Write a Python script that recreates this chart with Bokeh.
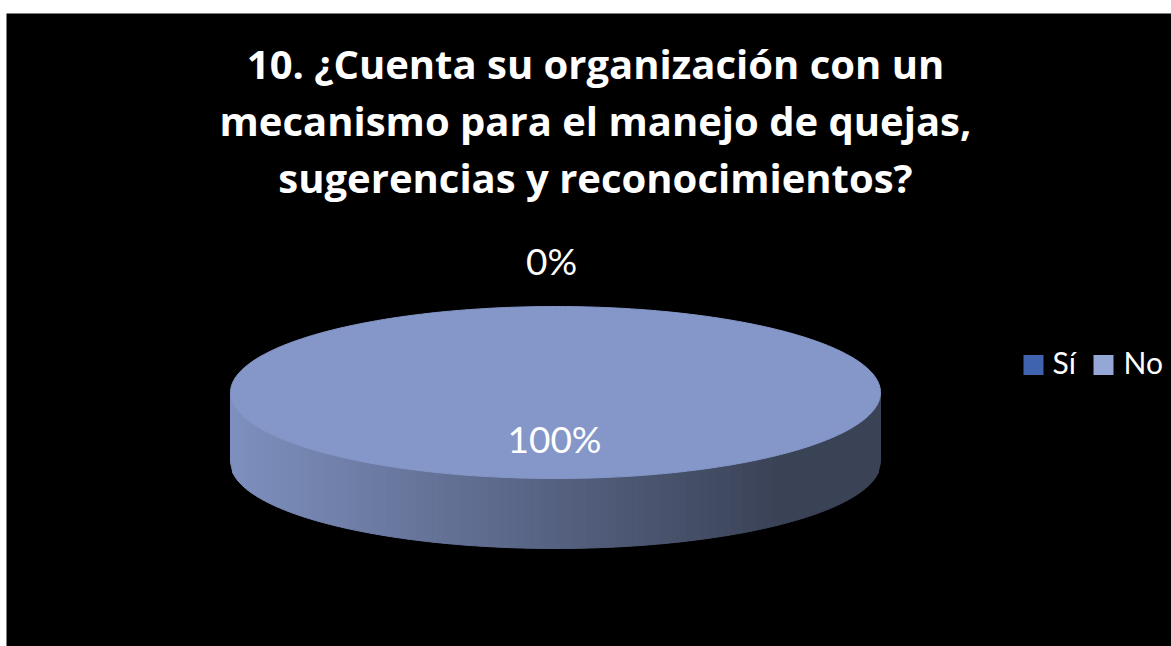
import numpy as np
from bokeh.plotting import figure
from bokeh.models import Range1d, Spacer
from bokeh.layouts import column, row
from bokeh.core.properties import value
from bokeh.embed import file_html
from bokeh.resources import INLINE

# ---- data ----
categories = ["Sí", "No"]
values = [0, 100]
slice_colors = ["#3F63AE", "#8497C8"]
legend_colors = ["#3F63AE", "#95A7D7"]
title_lines = ["10. ¿Cuenta su organización con un",
               "mecanismo para el manejo de quejas,",
               "sugerencias y reconocimientos?"]

# ---- layout constants (page pixel coordinates) ----
X0, Y0 = 6, 13
W, H = 1171 - X0, 646 - Y0
cx, cy, rx, ry, depth = 555, 392, 325, 86, 70
TITLE_FONT = "Open Sans"
FONT = "Lato"
DY = -14  # text baseline correction

p = figure(width=W, height=H, output_backend="svg", toolbar_location=None,
           x_range=Range1d(X0, X0 + W), y_range=Range1d(Y0 + H, Y0),
           min_border=0, background_fill_color="black", border_fill_color="black",
           outline_line_color=None)
p.axis.visible = False
p.grid.visible = False

total = float(sum(values))
fracs = [v / total for v in values]

def ell(theta):
    return cx + rx * np.sin(theta), cy - ry * np.cos(theta)

def hex2rgb(h):
    h = h.lstrip("#")
    return np.array([int(h[i:i + 2], 16) for i in (0, 2, 4)], dtype=float)

def rgb2hex(c):
    c = np.clip(np.round(c), 0, 255).astype(int)
    return "#%02x%02x%02x" % tuple(c)

# ---- side (front half) with left->right shading ----
main = int(np.argmax(values))
base = hex2rgb(slice_colors[main])
light = base * 0.95
dark = np.array([58, 66, 86], dtype=float)
N = 260
xs_edges = np.linspace(cx - rx, cx + rx, N + 1)
def ytop(x):
    t = np.clip((x - cx) / rx, -1, 1)
    return cy + ry * np.sqrt(1 - t * t)
sx, sy, sc = [], [], []
for i in range(N):
    a, b = xs_edges[i], xs_edges[i + 1]
    ya, yb = ytop(a), ytop(b)
    sx.append([a, b, b, a])
    sy.append([ya, yb, yb + depth, ya + depth])
    f = np.clip((0.5 * (a + b) - (cx - rx)) / (0.85 * 2 * rx), 0, 1)
    sc.append(rgb2hex(light * (1 - f) + dark * f))
p.patches(xs=sx, ys=sy, fill_color=sc, line_color=sc, line_width=1)

# ---- top faces ----
start = 0.0
label_x, label_y, label_t = [], [], []
for cat, fr, col in zip(categories, fracs, slice_colors):
    end = start + fr * 2 * np.pi
    mid = 0.5 * (start + end)
    if fr > 0:
        th = np.linspace(start, end, 400)
        px, py = ell(th)
        if fr < 1:
            px = np.concatenate([[cx], px]); py = np.concatenate([[cy], py])
        p.patch(list(px), list(py), fill_color=col, line_color=col, line_width=1)
    if fr >= 0.5:
        lx, ly = cx - 1 + 0.56 * rx * np.sin(mid), cy - 0.70 * ry * np.cos(mid)
    else:
        lx = cx - 4 + (rx + 40) * np.sin(mid)
        ly = cy - (ry + 32) * np.cos(mid)
    label_x.append(lx); label_y.append(ly + DY)
    label_t.append(f"{fr * 100:.0f}%")
    start = end

p.text(x=label_x, y=label_y, text=label_t, text_color="white",
       text_font=value(FONT), text_font_size="37px",
       text_align="center", text_baseline="alphabetic")

# ---- title ----
p.text(x=[595] * 3, y=[77 + DY, 134 + DY, 191 + DY], text=title_lines, text_color="white",
       text_font=value(TITLE_FONT), text_font_style="bold", text_font_size="40px",
       text_align="center", text_baseline="alphabetic")

# ---- legend ----
lg_sq_x = [1033, 1103]
lg_tx_x = [1052, 1123]
p.rect(x=lg_sq_x, y=[364.5, 364.5], width=20, height=20,
       fill_color=legend_colors, line_color=None)
p.text(x=lg_tx_x, y=[375 + DY, 375 + DY], text=categories, text_color="white",
       text_font=value(FONT), text_font_size="30px",
       text_align="left", text_baseline="alphabetic")

layout = column(Spacer(width=W + X0, height=Y0),
                row(Spacer(width=X0, height=H), p, spacing=0), spacing=0)
open("out.html", "w").write(file_html(layout, INLINE))
